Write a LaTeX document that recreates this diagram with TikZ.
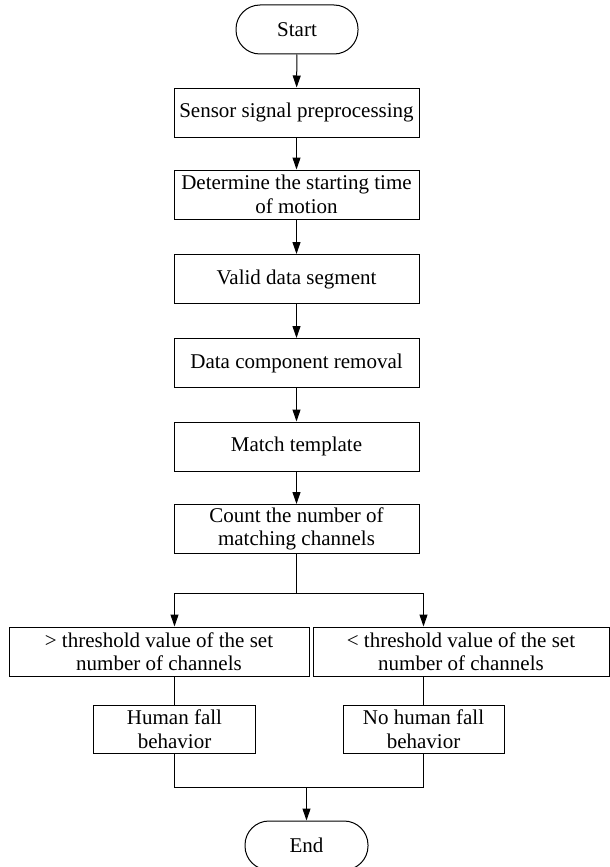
\documentclass[tikz,border=0pt]{standalone}
\usepackage{fontspec}
\setmainfont{Liberation Serif}
\usetikzlibrary{arrows.meta}

\begin{document}
\begin{tikzpicture}[x=1pt, y=-1pt, line width=1pt, >={Triangle[length=12pt,width=8pt]},
	every node/.style={font=\fontsize{21}{23.5}\selectfont, align=center, inner sep=0pt},
	stepbox/.style={draw, rectangle, minimum width=245pt, minimum height=49pt},
	termbox/.style={draw, rectangle, rounded corners=24pt, minimum width=122pt, minimum height=49pt}]
	\useasboundingbox (0,0) rectangle (610,867);
	\node[termbox] (start) at (297,29.5) {Start};
	\node[stepbox] (pre) at (296.5,112.5) {Sensor signal preprocessing};
	\node[stepbox] (det) at (296.5,194.5) {Determine the starting time\\of motion};
	\node[stepbox] (valid) at (296.5,279) {Valid data segment};
	\node[stepbox] (removal) at (296.5,363) {Data component removal};
	\node[stepbox] (match) at (296.5,446.5) {Match template};
	\node[stepbox] (count) at (296.5,529) {Count the number of\\matching channels};
	\node[stepbox, minimum width=300pt] (gt) at (159,651.5) {> threshold value of the set\\number of channels};
	\node[stepbox, minimum width=296pt] (lt) at (461,651.5) {< threshold value of the set\\number of channels};
	\node[stepbox, minimum width=162pt, minimum height=48pt] (fall) at (174.5,729) {Human fall\\behavior};
	\node[stepbox, minimum width=161pt, minimum height=48pt] (nofall) at (423.5,729) {No human fall\\behavior};
	\node[termbox, minimum width=123pt] (end) at (306.5,845.5) {End};
	\coordinate (split) at (296.5,593);
	\coordinate (merge) at (306.5,787);
	\draw[->] (start) -- (pre);
	\draw[->] (pre) -- (det);
	\draw[->] (det) -- (valid);
	\draw[->] (valid) -- (removal);
	\draw[->] (removal) -- (match);
	\draw[->] (match) -- (count);
	\draw (count) -- (split);
	\draw[->] (split) -| (gt.north -| fall.north);
	\draw[->] (split) -| (lt.north -| nofall.north);
	\draw (gt.south -| fall.north) -- (fall);
	\draw (lt.south -| nofall.north) -- (nofall);
	\draw (fall) |- (merge);
	\draw (nofall) |- (merge);
	\draw[->] (merge) -- (end);
\end{tikzpicture}
\end{document}
